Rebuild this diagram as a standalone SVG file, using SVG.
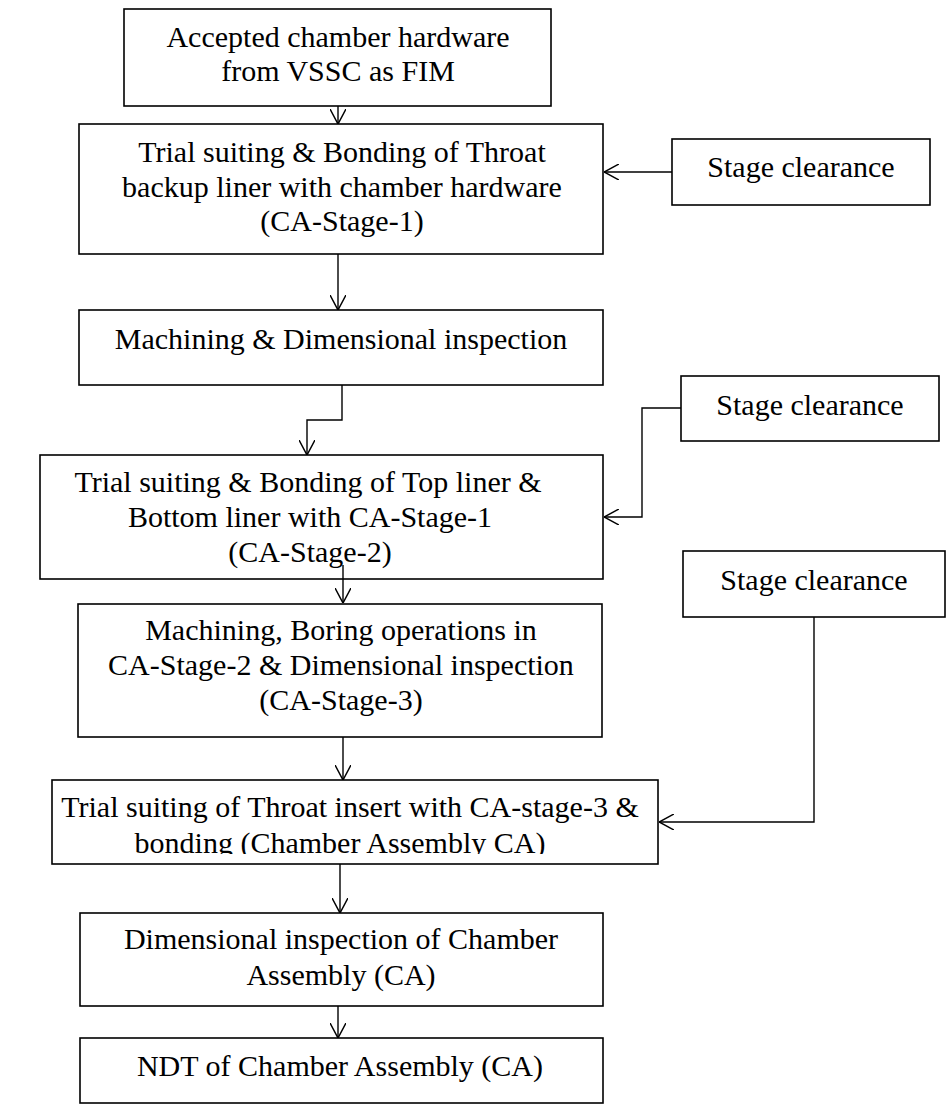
<svg xmlns="http://www.w3.org/2000/svg" width="948" height="1109" viewBox="0 0 948 1109">
  <style>
    .box { fill: #ffffff; stroke: #000000; stroke-width: 1.6; }
    .lbl { font-family: "Liberation Serif", "Times New Roman", serif; font-size: 30px; fill: #000000; text-anchor: middle; }
    .wire { fill: none; stroke: #000000; stroke-width: 1.4; }
    .arr { marker-end: url(#head); }
  </style>
  <defs>
    <marker id="head" viewBox="0 0 15 16" refX="15" refY="8" markerWidth="15" markerHeight="16" markerUnits="userSpaceOnUse" orient="auto">
      <path d="M0,0 L15,8 L0,16" fill="none" stroke="#000000" stroke-width="1.5"/>
    </marker>
    <clipPath id="clip-n6">
      <rect x="40" y="770" width="630" height="84"/>
    </clipPath>
  </defs>
  <rect width="948" height="1109" fill="#ffffff"/>

  <g id="n1">
    <rect class="box" x="124" y="9" width="427" height="97"/>
    <text class="lbl" x="338" y="47">Accepted chamber hardware</text>
    <text class="lbl" x="338" y="81">from VSSC as FIM</text>
  </g>

  <g id="n2">
    <rect class="box" x="79" y="124" width="524" height="130"/>
    <text class="lbl" x="342" y="162">Trial suiting &amp; Bonding of Throat</text>
    <text class="lbl" x="342" y="197">backup liner with chamber hardware</text>
    <text class="lbl" x="342" y="231">(CA-Stage-1)</text>
  </g>

  <g id="s1">
    <rect class="box" x="672" y="139" width="258" height="66"/>
    <text class="lbl" x="801" y="177">Stage clearance</text>
  </g>

  <g id="n3">
    <rect class="box" x="79" y="310" width="524" height="75"/>
    <text class="lbl" x="341" y="349">Machining &amp; Dimensional inspection</text>
  </g>

  <g id="s2">
    <rect class="box" x="681" y="376" width="258" height="65"/>
    <text class="lbl" x="810" y="415">Stage clearance</text>
  </g>

  <g id="n4">
    <rect class="box" x="40" y="455" width="563" height="124"/>
    <text class="lbl" x="308" y="492">Trial suiting &amp; Bonding of Top liner &amp;</text>
    <text class="lbl" x="310" y="527">Bottom liner with CA-Stage-1</text>
    <text class="lbl" x="310" y="562">(CA-Stage-2)</text>
  </g>

  <g id="s3">
    <rect class="box" x="683" y="551" width="262" height="66"/>
    <text class="lbl" x="814" y="590">Stage clearance</text>
  </g>

  <g id="n5">
    <rect class="box" x="78" y="604" width="524" height="133"/>
    <text class="lbl" x="341" y="640">Machining, Boring operations in</text>
    <text class="lbl" x="341" y="675">CA-Stage-2 &amp; Dimensional inspection</text>
    <text class="lbl" x="341" y="710">(CA-Stage-3)</text>
  </g>

  <g id="n6">
    <rect class="box" x="52" y="780" width="606" height="84"/>
    <g clip-path="url(#clip-n6)">
      <text class="lbl" x="350" y="817">Trial suiting of Throat insert with CA-stage-3 &amp;</text>
      <text class="lbl" x="340" y="853">bonding (Chamber Assembly CA)</text>
    </g>
  </g>

  <g id="n7">
    <rect class="box" x="80" y="913" width="523" height="93"/>
    <text class="lbl" x="341" y="949">Dimensional inspection of Chamber</text>
    <text class="lbl" x="341" y="985">Assembly (CA)</text>
  </g>

  <g id="n8">
    <rect class="box" x="80" y="1038" width="523" height="65"/>
    <text class="lbl" x="340" y="1076">NDT of Chamber Assembly (CA)</text>
  </g>

  <g id="connectors">
    <path class="wire arr" d="M338,106 V124"/>
    <path class="wire arr" d="M338,254 V310"/>
    <path class="wire arr" d="M342,385 V420 H307 V455"/>
    <path class="wire arr" d="M343,565 V603"/>
    <path class="wire arr" d="M343,737 V780"/>
    <path class="wire arr" d="M340,864 V913"/>
    <path class="wire arr" d="M338,1006 V1038"/>
    <path class="wire arr" d="M672,172 H604"/>
    <path class="wire arr" d="M681,408 H642 V517 H604"/>
    <path class="wire arr" d="M814,617 V822 H659"/>
  </g>
</svg>
